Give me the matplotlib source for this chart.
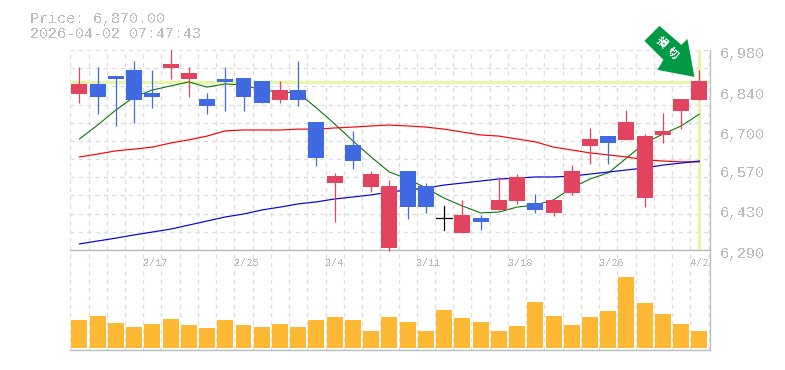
import matplotlib
matplotlib.use("Agg")
import matplotlib.pyplot as plt
import numpy as np
from matplotlib.patches import Polygon

# ---- data ----
body_top = [6863,6863,6890,6911,6832,6932,6901,6811,6880,6883,6873,6842,6842,6732,6545,6652,6552,6511,6563,6511,6400,6411,6400,6463,6542,6452,6463,6563,6673,6683,6732,6683,6701,6811,6873]
body_bot = [6828,6818,6880,6808,6818,6918,6880,6787,6870,6818,6797,6808,6808,6607,6521,6597,6507,6297,6438,6438,6400,6349,6387,6428,6459,6428,6418,6487,6649,6659,6670,6469,6687,6770,6808]
high = [6921,6921,6890,6942,6911,6980,6921,6832,6921,6883,6873,6873,6942,6732,6555,6701,6563,6531,6563,6521,6442,6463,6411,6542,6552,6483,6463,6583,6711,6683,6773,6690,6763,6811,6911]
low  = [6797,6759,6718,6728,6780,6880,6818,6759,6770,6770,6797,6797,6787,6580,6387,6569,6490,6287,6397,6418,6359,6349,6359,6428,6449,6418,6407,6480,6587,6587,6670,6438,6659,6707,6808]
up = [1,0,0,0,0,1,1,0,0,0,0,1,0,0,1,0,1,1,0,0,2,1,0,1,1,0,1,1,1,0,1,1,1,1,1]
ma_short = [6673,6721,6773,6818,6842,6856,6870,6852,6863,6859,6842,6835,6832,6780,6725,6666,6611,6559,6535,6504,6469,6442,6418,6421,6438,6445,6463,6504,6535,6556,6607,6659,6690,6718,6759]
ma_mid = [6611,6621,6632,6638,6645,6659,6670,6683,6701,6704,6704,6704,6707,6707,6711,6714,6718,6721,6718,6714,6707,6697,6687,6683,6673,6663,6645,6635,6625,6618,6611,6601,6597,6594,6594]
ma_long = [6311,6321,6331,6342,6352,6362,6376,6390,6404,6414,6428,6438,6449,6456,6466,6473,6480,6490,6497,6504,6514,6521,6528,6535,6538,6542,6542,6545,6552,6559,6566,6573,6583,6590,6597]
volume = [28,32,25,21,24,29,23,20,28,23,21,24,21,28,31,28,17,31,26,17,38,30,26,17,22,46,32,23,31,37,71,45,34,24,17]
date_labels = {4:"2/17", 9:"2/25", 14:"3/4", 19:"3/11", 24:"3/18", 29:"3/26", 34:"4/2"}
price_labels = [6290,6430,6570,6700,6840,6980]
last_price = 6870
header = ["Price: 6,870.00", "2026-04-02 07:47:43"]
badge = ["損", "切"]

W, H = 785, 370
RED, BLUE, ORANGE = "#E2445F", "#4169E1", "#FFB833"
HL, GRID, EDGE, TXT = "#E6F5AB", "#DDDDDD", "#BBBBBB", "#BBBBBB"
MONO = "Liberation Mono"
plt.rcParams["text.antialiased"] = False

fig = plt.figure(figsize=(W/100, H/100), dpi=100)
def axes(l, t, r, b):
    return fig.add_axes([l/W, 1-b/H, (r-l)/W, (b-t)/H])
ax = axes(70, 50, 710, 250)
av = axes(70, 250, 710, 350)

x = np.arange(len(volume))
xlim = (-0.515, 34.58)
for a in (ax, av):
    a.set_xlim(*xlim)
    a.patch.set_visible(False)
    a.tick_params(length=0, labelbottom=False, labelleft=False)
    a.set_xticks(np.arange(0, 36) - 0.5)
    a.grid(True, axis="x", color=GRID, lw=1, ls=(0, (3, 3)), zorder=0)
    a.set_axisbelow(True)
    for s in a.spines.values():
        s.set_visible(False)
    a.spines["right"].set_visible(True)
    a.spines["right"].set_color(EDGE)
    a.spines["right"].set_linewidth(0.9)
    a.spines["bottom"].set_visible(True)
    a.spines["bottom"].set_color(EDGE)
    a.spines["bottom"].set_linewidth(1.0)

ax.set_ylim(6290, 6980)
ax.set_yticks(np.linspace(6290, 6980, 12))
ax.grid(True, axis="y", color=GRID, lw=1, ls=(0, (3, 3)), zorder=0)

# highlight lines
ax.axhline(last_price, color=HL, lw=2.4, zorder=1)
ax.plot([x[-1], x[-1]], [6290, 6980], color=HL, lw=2.4, zorder=1, solid_capstyle="butt")

# moving averages
ax.plot(x, ma_short, color="#007000", lw=0.75, zorder=3)
ax.plot(x, ma_mid, color="#FF0000", lw=0.85, zorder=3)
ax.plot(x, ma_long, color="#0000E0", lw=0.85, zorder=3)

# candles
for i in x:
    if up[i] == 2:
        c = "black"
        ax.plot([i, i], [low[i], high[i]], color=c, lw=0.9, zorder=4)
        ax.plot([i-0.45, i+0.45], [body_top[i]]*2, color=c, lw=0.9, zorder=4)
        continue
    c = RED if up[i] else BLUE
    ax.plot([i, i], [low[i], high[i]], color=c, lw=0.9, zorder=4, solid_capstyle="butt", clip_on=False)
    ax.bar(i, body_top[i]-body_bot[i], bottom=body_bot[i], width=0.875, color=c, lw=0, zorder=5)

# volume
av.bar(x, volume, width=0.875, color=ORANGE, lw=0, zorder=3)
av.set_ylim(-2, 98)

# y labels
for p in price_labels:
    ax.annotate(f"{p:,}", (1, p), xycoords=("axes fraction", "data"), xytext=(10*0.72, -4*0.72),
                textcoords="offset points", ha="left", va="center", family=MONO, fontsize=10.8, color=TXT)
# x labels
for i, s in date_labels.items():
    av.annotate(s, (i-0.5, 1), xycoords=("data", "axes fraction"), xytext=(0, -13.5*0.72),
                textcoords="offset points", ha="left", va="center", family=MONO, fontsize=7.4, color=TXT)
# header
for s, y in zip(header, (19, 34)):
    fig.text(30/W, 1-y/H, s, family=MONO, fontsize=10.8, color=TXT, ha="left", va="center")

# arrow marker (pixel offsets from its tip, above the last candle)
tip = ax.transData.transform((x[-1], last_price))
shape = np.array([(-35,-51),(-50,-36),(-31,-17),(-37,-7),(0,0),(-7,-38),(-13,-32)], float)
px = [(tip[0]-5+dx, tip[1]+5-dy) for dx, dy in shape]
fig.add_artist(Polygon(px, closed=True, transform=None, facecolor="#009944", edgecolor="none", zorder=10))
for s, (dx, dy) in zip(badge, [(-38, 39), (-26.5, 29)]):
    fig.text((tip[0]+dx)/W, (tip[1]+dy)/H, s, rotation=-42, ha="center", va="center", color="white",
             family="Noto Sans CJK JP", fontsize=7.6, fontweight="bold", zorder=11, rotation_mode="anchor")

fig.savefig("out.png", dpi=100, facecolor="white")
